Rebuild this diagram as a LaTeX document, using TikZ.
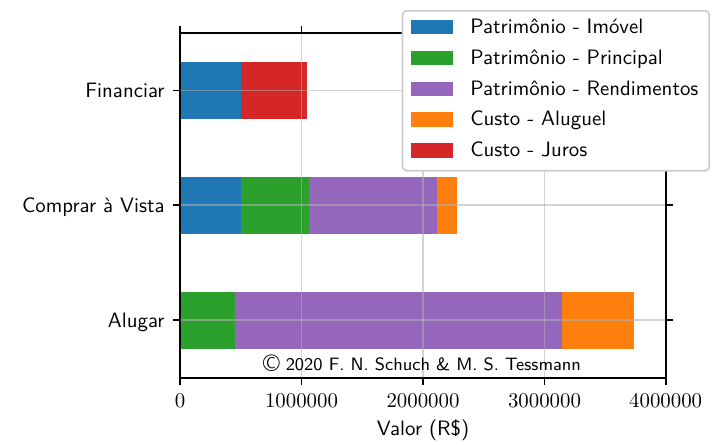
\documentclass[tikz,border=0pt]{standalone}
\usepackage{fontspec}
\definecolor{cblue}{RGB}{31,119,180}
\definecolor{cgreen}{RGB}{44,160,44}
\definecolor{cpurple}{RGB}{148,103,189}
\definecolor{corange}{RGB}{255,127,14}
\definecolor{cred}{RGB}{214,39,40}
\definecolor{cgrid}{RGB}{176,176,176}
\definecolor{cframe}{RGB}{204,204,204}
\begin{document}
\begin{tikzpicture}[x=0.48pt,y=-0.48pt,font=\sffamily,
  gridline/.style={draw=cgrid,line width=0.8pt,opacity=0.55},
  spine/.style={draw=black,line width=0.8pt,line cap=rect},
  tickmark/.style={draw=black,line width=0.8pt},
  ylab/.style={anchor=base east,inner sep=0pt},
  xlab/.style={anchor=base,inner sep=0pt},
  legtext/.style={anchor=base west,inner sep=0pt},
  patch/.style={inner sep=0pt,minimum width=20.45pt,minimum height=6.9pt}]
\useasboundingbox (0,0) rectangle (720,445);
% bars
\fill[cblue]   (180,61.7) rectangle (241,119.1);
\fill[cred]    (241,61.7) rectangle (306.5,119.1);
\fill[cblue]   (180,176.6) rectangle (241,234);
\fill[cgreen]  (241,176.6) rectangle (309,234);
\fill[cpurple] (309,176.6) rectangle (437,234);
\fill[corange] (437,176.6) rectangle (457,234);
\fill[cgreen]  (180,291.5) rectangle (235,348.9);
\fill[cpurple] (235,291.5) rectangle (562,348.9);
\fill[corange] (562,291.5) rectangle (634,348.9);
% grid
\foreach \gx in {180,301.5,423,544.5,665.7} \draw[gridline] (\gx,33) -- (\gx,377.7);
\foreach \gy in {90.4,205.3,320.2} \draw[gridline] (180,\gy) -- (665.7,\gy);
% spines
\draw[spine] (180,33) rectangle (665.7,377.7);
% ticks
\foreach \gx in {180,301.5,423,544.5,665.7} {
  \draw[tickmark] (\gx,377.7) -- (\gx,385);
  \draw[tickmark] (\gx,33) -- (\gx,25.7);
}
\foreach \gy in {90.4,205.3,320.2} {
  \draw[tickmark] (180,\gy) -- (172.7,\gy);
  \draw[tickmark] (665.7,\gy) -- (673,\gy);
}
% tick labels
\node[ylab] (yfin) at (165,97.7) {Financiar};
\node[ylab] (ycom) at (165,212.8) {Comprar à Vista};
\node[ylab] (yalu) at (165,327.7) {Alugar};
\node[xlab] (x0) at (180,407) {$0$};
\node[xlab] (x1) at (301.5,407) {$1000000$};
\node[xlab] (x2) at (423,407) {$2000000$};
\node[xlab] (x3) at (544.5,407) {$3000000$};
\node[xlab] (x4) at (665.7,407) {$4000000$};
\node[xlab] (xtitle) at (423,435) {Valor (R\$)};
% copyright
\node[xlab,font=\sffamily\fontsize{8.6}{10}\selectfont] (copy) at (422,370.7) {\raisebox{-0.6pt}{\fontsize{11.5}{12}\selectfont\textcopyright} 2020 F. N. Schuch \& M. S. Tessmann};
% legend
\draw[cframe,fill=white,line width=0.8pt,rounded corners=2pt] (402.5,10.7) rectangle (709.3,170.7);
\node[patch,fill=cblue]   (p1) at (432,27.2) {};
\node[patch,fill=cgreen]  (p2) at (432,58.0) {};
\node[patch,fill=cpurple] (p3) at (432,88.8) {};
\node[patch,fill=corange] (p4) at (432,119.6) {};
\node[patch,fill=cred]    (p5) at (432,150.4) {};
\node[legtext] (l1) at (470,33.5) {Patrimônio - Imóvel};
\node[legtext] (l2) at (470,64.3) {Patrimônio - Principal};
\node[legtext] (l3) at (470,95.1) {Patrimônio - Rendimentos};
\node[legtext] (l4) at (470,125.9) {Custo - Aluguel};
\node[legtext] (l5) at (470,156.7) {Custo - Juros};
\end{tikzpicture}
\end{document}
